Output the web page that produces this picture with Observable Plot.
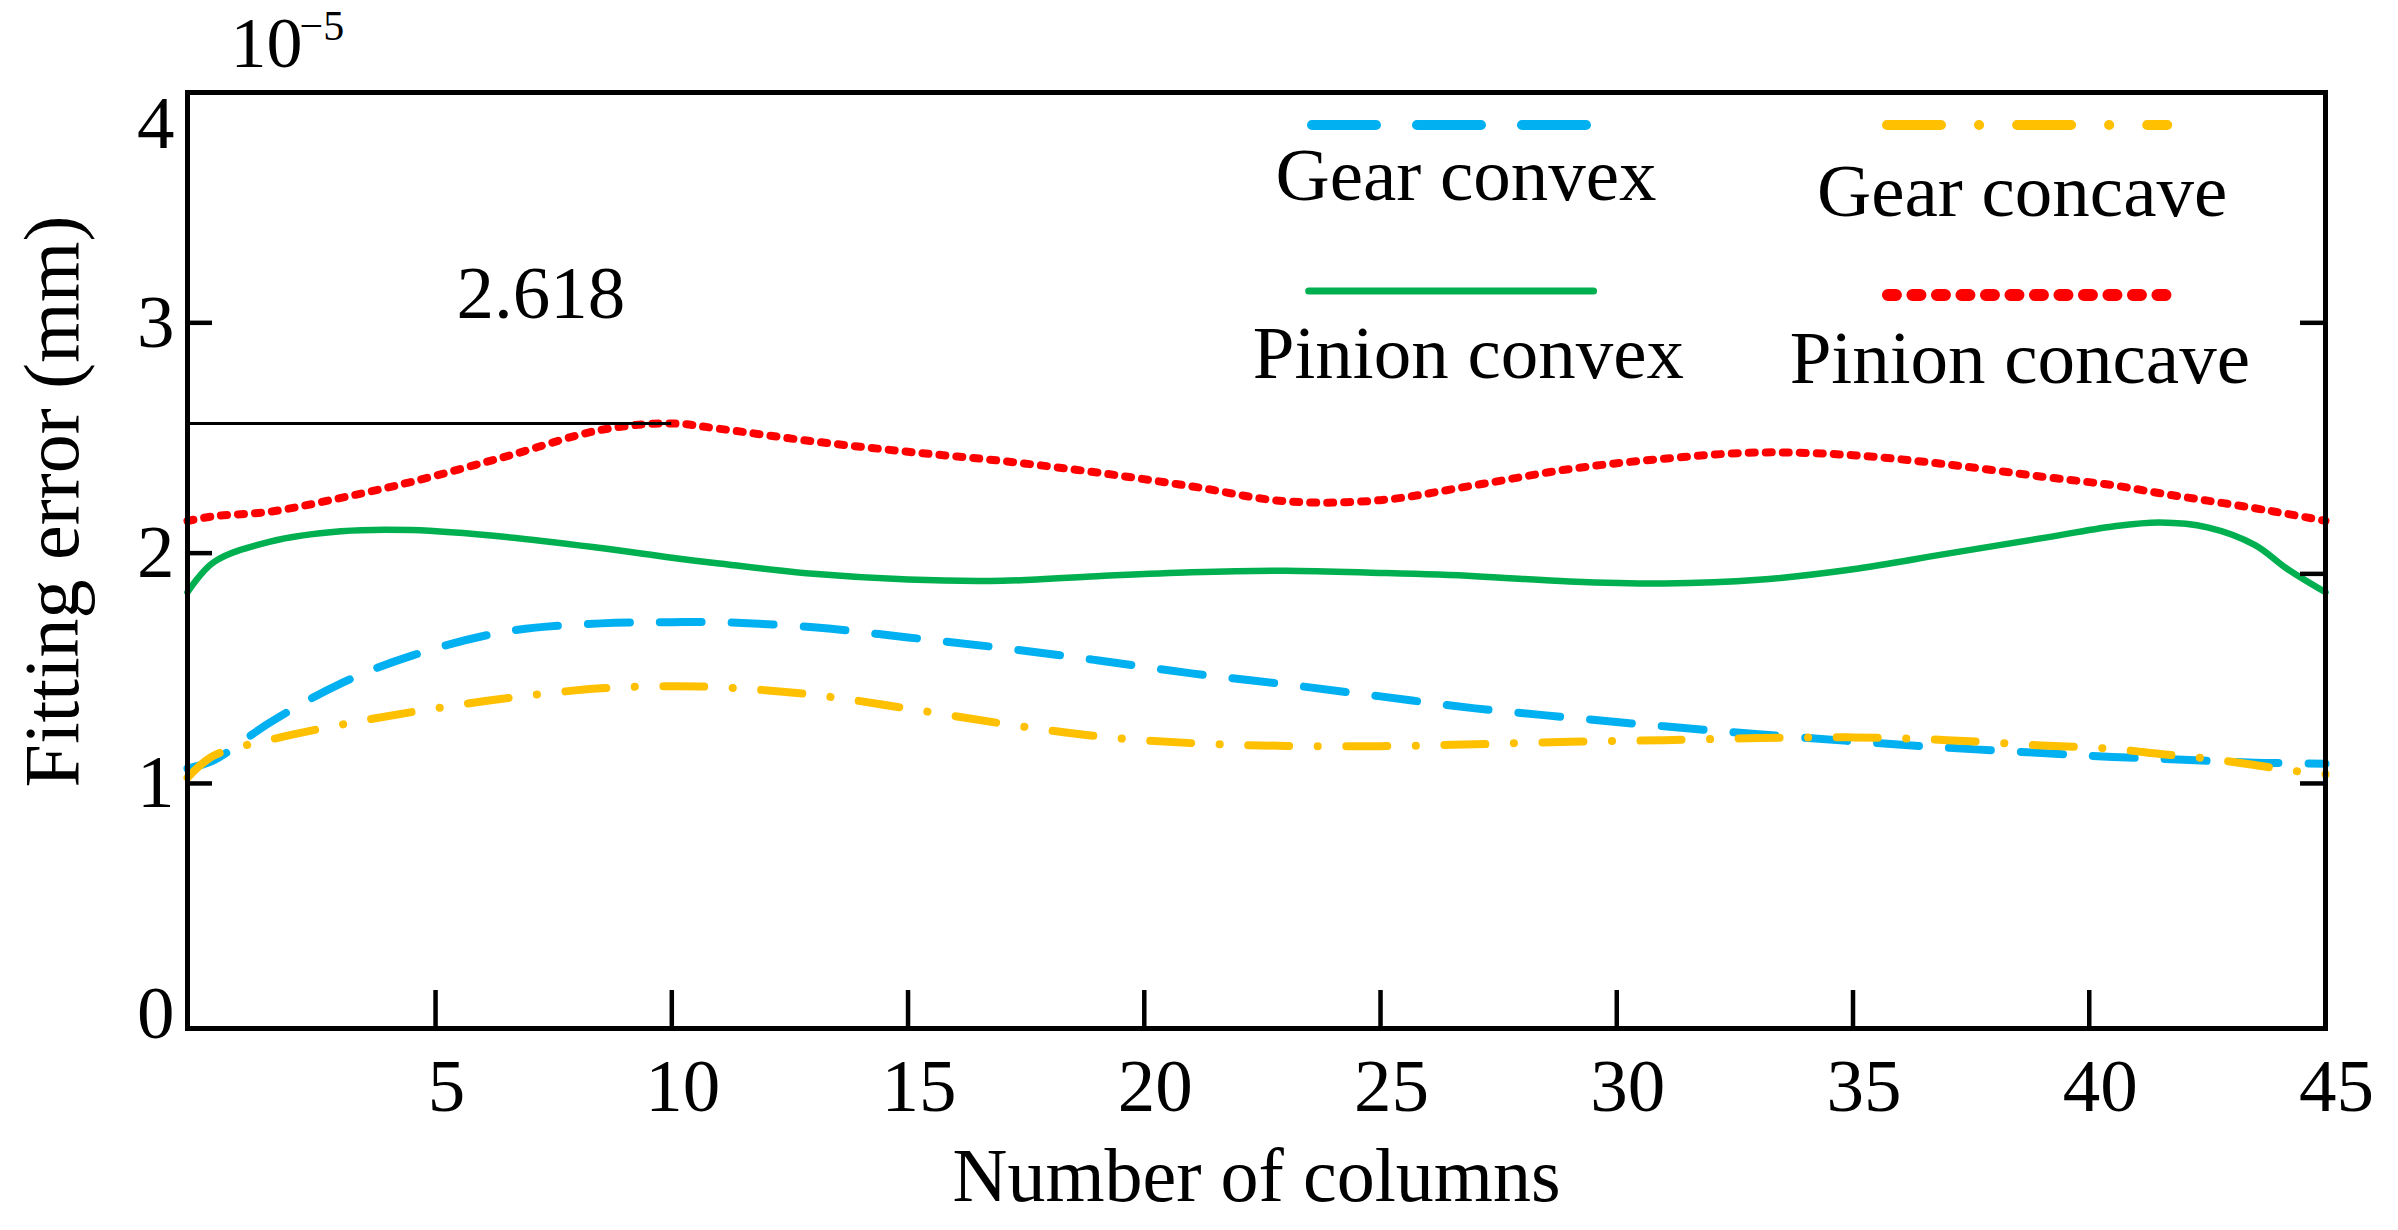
<!DOCTYPE html>
<html>
<head>
<meta charset="utf-8">
<script src="https://cdn.jsdelivr.net/npm/d3@7"></script>
<script src="https://cdn.jsdelivr.net/npm/@observablehq/plot@0.6"></script>
<style>
  html, body { margin: 0; padding: 0; background: #fff; }
  svg { display: block; }
</style>
</head>
<body>
<div id="chart"></div>
<script>
// Column positions (x) at which curves were read
const cols = [-0.25, 0.3, 1.5, 3, 4.5, 6.5, 8.5, 10, 11, 13, 15, 17, 19, 21, 23, 25, 27, 29, 31, 33, 35, 37, 39, 40.5, 41.5, 42.5, 43.5, 44.2, 45];
// Fitting error, units of 1e-5 mm
const gearConvex    = [1.065, 1.10, 1.265, 1.435, 1.555, 1.66, 1.695, 1.70, 1.70, 1.678, 1.634, 1.588, 1.535, 1.478, 1.43, 1.378, 1.326, 1.286, 1.248, 1.214, 1.183, 1.155, 1.132, 1.115, 1.107, 1.098, 1.09, 1.088, 1.086];
const gearConcave   = [1.025, 1.12, 1.19, 1.255, 1.31, 1.37, 1.413, 1.422, 1.418, 1.385, 1.325, 1.26, 1.205, 1.175, 1.163, 1.162, 1.17, 1.181, 1.188, 1.197, 1.20, 1.188, 1.165, 1.15, 1.128, 1.108, 1.08, 1.058, 1.04];
const pinionConvex  = [1.83, 1.96, 2.05, 2.095, 2.10, 2.07, 2.022, 1.98, 1.955, 1.91, 1.885, 1.88, 1.90, 1.917, 1.924, 1.914, 1.90, 1.877, 1.868, 1.884, 1.93, 1.998, 2.065, 2.116, 2.133, 2.112, 2.036, 1.93, 1.83];
const pinionConcave = [2.14, 2.16, 2.18, 2.24, 2.31, 2.42, 2.535, 2.563, 2.54, 2.485, 2.44, 2.40, 2.35, 2.29, 2.225, 2.23, 2.295, 2.365, 2.41, 2.437, 2.425, 2.385, 2.332, 2.295, 2.26, 2.228, 2.195, 2.17, 2.14];

const xTicks = [5, 10, 15, 20, 25, 30, 35, 40, 45];
const xInnerTicks = [5, 10, 15, 20, 25, 30, 35, 40];
const yTickLabels = [0, 1, 2, 3];
const yTopLabel = [4];
const yLeftTicks = [1, 2, 3];
const yRightTicks = [1, 1.91, 3];

const peakValue = 2.563;   // level of the reference line
const peakCol = 10;
const peakLabel = "2.618";
const exponentBase = "10";
const exponentPower = "\u22125";

const xDomain = [-0.25, 45];
const yDomain = [-0.064, 4];

const FONT = "Liberation Serif";

const series = [
  {name: "Gear convex",    values: gearConvex,    color: "#00B0F0", width: 8,   dash: "42,30"},
  {name: "Gear concave",   values: gearConcave,   color: "#FFC000", width: 8,   dash: "41,28.5,0.1,28.5"},
  {name: "Pinion convex",  values: pinionConvex,  color: "#00B050", width: 6.5, dash: null},
  {name: "Pinion concave", values: pinionConcave, color: "#FF0000", width: 8,   dash: "6,11"}
];

// legend layout (in data units of the plot)
const legend = [
  {name: "Gear convex",    x1: 23.56, x2: 29.46, y: 3.859, tx: 26.81, ty: 3.533, width: 10, dash: "64,41"},
  {name: "Gear concave",   x1: 35.73, x2: 41.66, y: 3.859, tx: 38.58, ty: 3.464, width: 10, dash: "54,38,0.1,38"},
  {name: "Pinion convex",  x1: 23.49, x2: 29.52, y: 3.138, tx: 26.86, ty: 2.760, width: 7,  dash: null},
  {name: "Pinion concave", x1: 35.75, x2: 41.63, y: 3.121, tx: 38.53, ty: 2.738, width: 12, dash: "8,16.5"}
];

const marks = [];
for (const s of series) {
  const data = cols.map((c, i) => ({col: c, v: s.values[i]}));
  marks.push(Plot.line(data, {
    x: "col", y: "v", curve: "catmull-rom",
    stroke: s.color, strokeWidth: s.width,
    strokeDasharray: s.dash, strokeLinecap: "round", strokeLinejoin: "round"
  }));
}
// reference line at the peak
marks.push(Plot.ruleY([peakValue], {x1: xDomain[0], x2: peakCol, stroke: "black", strokeWidth: 3}));
marks.push(Plot.text([peakLabel], {x: 7.23, y: 3.019, text: d => d, fontSize: 75, fontFamily: FONT, fill: "black", textAnchor: "middle", lineAnchor: "bottom"}));

// legend
for (const l of legend) {
  const s = series.find(d => d.name === l.name);
  marks.push(Plot.ruleY([l.y], {x1: l.x1, x2: l.x2, stroke: s.color, strokeWidth: l.width, strokeDasharray: l.dash, strokeLinecap: "round"}));
  marks.push(Plot.text([l.name], {x: l.tx, y: l.ty, text: d => d, fontSize: 75, fontFamily: FONT, fill: "black", textAnchor: "middle", lineAnchor: "bottom"}));
}

// frame
marks.push(Plot.frame({stroke: "black", strokeWidth: 5}));

// inward ticks
const yPerPx = (yDomain[1] - yDomain[0]) / 936;
const xPerPx = (xDomain[1] - xDomain[0]) / 2138;
marks.push(Plot.ruleX(xInnerTicks, {x: d => d, y1: yDomain[0], y2: yDomain[0] + 38 * yPerPx, stroke: "black", strokeWidth: 4.5}));
marks.push(Plot.ruleY(yLeftTicks, {y: d => d, x1: xDomain[0], x2: xDomain[0] + 25 * xPerPx, stroke: "black", strokeWidth: 4.5}));
marks.push(Plot.ruleY(yRightTicks, {y: d => d, x1: xDomain[1] - 25 * xPerPx, x2: xDomain[1], stroke: "black", strokeWidth: 4.5}));

// tick labels
marks.push(Plot.text(xTicks, {x: d => d, text: d => String(d), frameAnchor: "bottom", dy: 29, dx: 11, lineAnchor: "top", textAnchor: "middle", fontSize: 75, fontFamily: FONT, fill: "black"}));
marks.push(Plot.text(yTickLabels, {y: d => d, text: d => String(d), frameAnchor: "left", dx: -13, textAnchor: "end", lineAnchor: "middle", fontSize: 75, fontFamily: FONT, fill: "black"}));
marks.push(Plot.text(yTopLabel, {y: d => d, text: d => String(d), frameAnchor: "left", dx: -13, dy: 2, textAnchor: "end", lineAnchor: "top", fontSize: 75, fontFamily: FONT, fill: "black"}));

// exponent (base; the power is added as a tspan below)
marks.push(Plot.text([exponentBase], {frameAnchor: "top-left", text: d => d, dx: 43, dy: -26, textAnchor: "start", lineAnchor: "bottom", fontSize: 72, fontFamily: FONT, fill: "black", ariaLabel: () => "exponent"}));

// axis titles
marks.push(Plot.text(["Number of columns"], {frameAnchor: "bottom", text: d => d, dy: 172, textAnchor: "middle", lineAnchor: "bottom", fontSize: 76, fontFamily: FONT, fill: "black"}));
marks.push(Plot.text(["Fitting error (mm)"], {frameAnchor: "left", y: () => 2.224, text: d => d, dx: -134, rotate: -90, textAnchor: "middle", lineAnchor: "middle", fontSize: 78, fontFamily: FONT, fill: "black"}));

const chart = Plot.plot({
  width: 2398,
  height: 1230,
  marginLeft: 187,
  marginRight: 73,
  marginTop: 92,
  marginBottom: 202,
  x: {domain: xDomain, axis: null},
  y: {domain: yDomain, axis: null},
  style: {background: "white", fontFamily: FONT, color: "black"},
  marks
});
document.getElementById("chart").appendChild(chart);

// superscript power on the exponent label
let baseText = chart.querySelector('text[aria-label="exponent"]') || chart.querySelector('g[aria-label="exponent"] text');
if (!baseText) {
  baseText = Array.from(chart.querySelectorAll("text")).find(t => t.textContent === exponentBase && t.getAttribute("font-size") === "72");
}
if (baseText) {
  d3.select(baseText)
    .append("tspan")
    .attr("dx", -3)
    .attr("dy", -27)
    .attr("font-size", 42)
    .text(exponentPower);
}
</script>
</body>
</html>
